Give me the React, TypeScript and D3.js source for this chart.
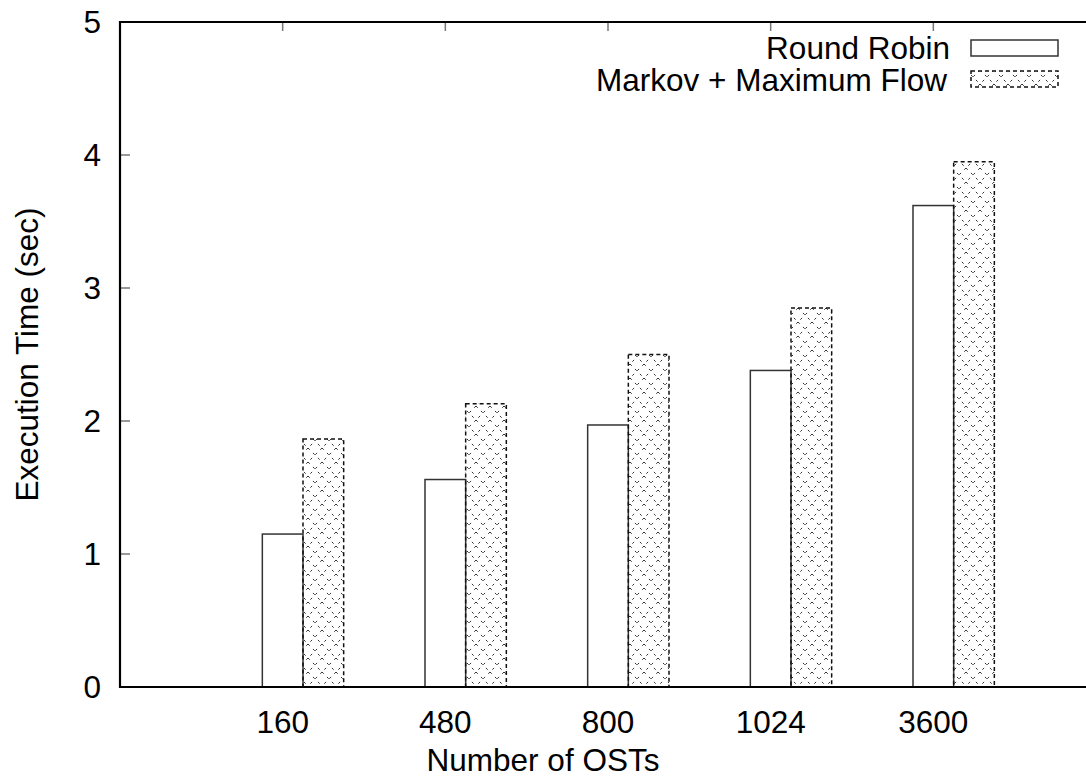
import React from "react";
import * as d3 from "d3";

const categories = ["160", "480", "800", "1024", "3600"];
const roundRobin = [1.15, 1.56, 1.97, 2.38, 3.62];
const markovFlow = [1.865, 2.13, 2.5, 2.85, 3.95];
const yTicks = [0, 1, 2, 3, 4, 5];
const seriesNames = ["Round Robin", "Markov + Maximum Flow"];

const W = 1086;
const H = 783;
const left = 120;
const right = 1096;
const top = 22;
const bottom = 687;
const font = "'Liberation Sans', Arial, sans-serif";
const fs = 31.5;

export default function App() {
  const x = d3.scaleLinear().domain([-1, 5]).range([left, right]);
  const y = d3.scaleLinear().domain([0, 5]).range([bottom, top]);
  const bw = x(0.25) - x(0);

  return (
    <svg width={W} height={H} style={{ position: "absolute", left: 0, top: 0, background: "#fff" }}>
      <defs>
        <pattern id="xhatch" patternUnits="userSpaceOnUse" width={14} height={14}>
          <line x1={0} y1={0} x2={14} y2={14} stroke="#333" strokeWidth={1} strokeDasharray="2.5,4.5" />
          <line x1={14} y1={0} x2={0} y2={14} stroke="#333" strokeWidth={1} strokeDasharray="2.5,4.5" />
        </pattern>
        <clipPath id="clipAll">
          <rect x={0} y={0} width={W} height={H} />
        </clipPath>
      </defs>
      <rect x={0} y={0} width={W} height={H} fill="#fff" />
      <g clipPath="url(#clipAll)">
        {/* y ticks */}
        {yTicks.map((t) => (
          <g key={"yt" + t}>
            <line x1={left} x2={left + 10} y1={y(t)} y2={y(t)} stroke="#777" strokeWidth={1.5} />
            <text x={left - 19} y={y(t)} dy="0.36em" textAnchor="end" fontFamily={font} fontSize={fs}>
              {t}
            </text>
          </g>
        ))}
        {/* x ticks (mirrored on top) */}
        {categories.map((c, i) => (
          <g key={"xt" + c}>
            <line x1={x(i)} x2={x(i)} y1={top} y2={top + 9} stroke="#777" strokeWidth={1.5} />
            <line x1={x(i)} x2={x(i)} y1={bottom} y2={bottom - 9} stroke="#777" strokeWidth={1.5} />
            <text x={x(i)} y={bottom + 35} dy="0.36em" textAnchor="middle" fontFamily={font} fontSize={fs}>
              {c}
            </text>
          </g>
        ))}
        {/* bars */}
        {categories.map((c, i) => (
          <g key={"bar" + c}>
            <rect
              x={x(i - 0.125)}
              y={y(roundRobin[i])}
              width={bw}
              height={bottom - y(roundRobin[i])}
              fill="#fff"
              stroke="#333"
              strokeWidth={1.5}
            />
            <rect
              x={x(i + 0.125)}
              y={y(markovFlow[i])}
              width={bw}
              height={bottom - y(markovFlow[i])}
              fill="url(#xhatch)"
              stroke="#111"
              strokeWidth={1.5}
              strokeDasharray="4,3"
            />
          </g>
        ))}
        {/* border */}
        <path
          d={`M${right},${top} L${left},${top} L${left},${bottom} L${right},${bottom}`}
          fill="none"
          stroke="#000"
          strokeWidth={2.2}
        />
        {/* legend */}
        <text x={950} y={48} dy="0.36em" textAnchor="end" fontFamily={font} fontSize={fs}>
          {seriesNames[0]}
        </text>
        <rect x={971} y={40} width={87} height={16} fill="#fff" stroke="#333" strokeWidth={1.5} />
        <text x={947} y={80} dy="0.36em" textAnchor="end" fontFamily={font} fontSize={fs}>
          {seriesNames[1]}
        </text>
        <rect
          x={971}
          y={71}
          width={87}
          height={16}
          fill="url(#xhatch)"
          stroke="#111"
          strokeWidth={1.5}
          strokeDasharray="4,3"
        />
        {/* axis titles */}
        <text x={543} y={760} dy="0.36em" textAnchor="middle" fontFamily={font} fontSize={fs}>
          Number of OSTs
        </text>
        <text
          transform={`translate(27,${(top + bottom) / 2}) rotate(-90)`}
          dy="0.36em"
          textAnchor="middle"
          fontFamily={font}
          fontSize={fs}
        >
          Execution Time (sec)
        </text>
      </g>
    </svg>
  );
}
